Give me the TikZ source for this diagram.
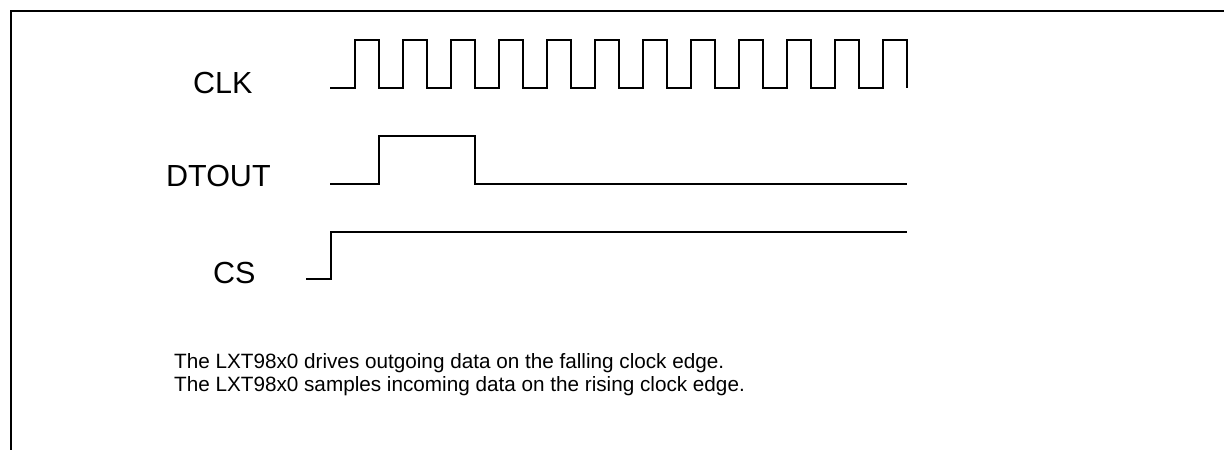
\documentclass[tikz,border=0pt]{standalone}
\usepackage{fontspec}
\setmainfont{Liberation Sans}
\usetikzlibrary{positioning}

\begin{document}
\begin{tikzpicture}[x=1pt, y=-1pt, line width=2.3pt,
    signame/.style={font=\fontsize{30.5}{36}\selectfont, anchor=base west, inner sep=0pt},
    notetext/.style={font=\fontsize{20.7}{24}\selectfont, anchor=base west, inner sep=0pt}]
        \useasboundingbox (0,0) rectangle (1224,450);
        % Frame
        \draw (1224,11) -- (11,11) -- (11,450);

        % Signal names
        \node[signame] (clk) at (192,93) {CLK};
        \node[signame] (dtout) at (165,186) {DTOUT};
        \node[signame] (cs) at (212,283) {CS};

        % Clock
        \draw (330,88) \foreach \k in {0,...,11} {
            -- (355+48*\k,88) -- (355+48*\k,40) -- (379+48*\k,40) -- (379+48*\k,88)
          };

        % Data out and chip select
        \draw (330,184) -- (379,184) -- (379,136) -- (475,136) -- (475,184) -- (907,184);
        \draw (306,279) -- (331,279) -- (331,232) -- (907,232);

        % Note
        \node[notetext] (note1) at (173,368) {The LXT98x0 drives outgoing data on the falling clock edge.};
        \node[notetext] (note2) at ([yshift=-23pt]note1.base west) {The LXT98x0 samples incoming data on the rising clock edge.};
      \end{tikzpicture}
\end{document}
